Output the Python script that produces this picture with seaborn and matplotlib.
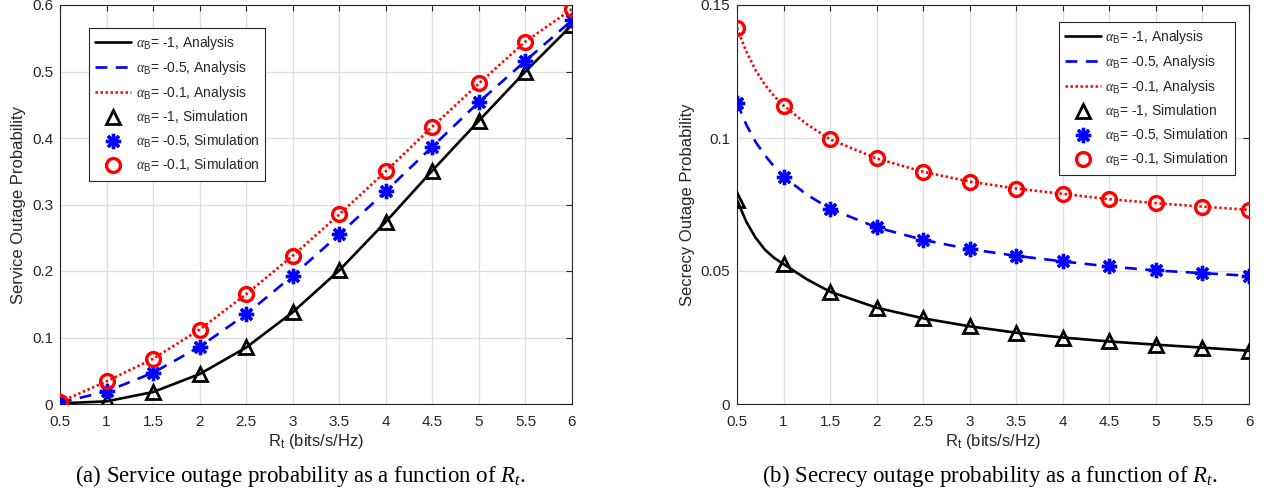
import matplotlib
matplotlib.use("Agg")
import matplotlib.pyplot as plt
import seaborn as sns
import numpy as np
import pandas as pd

# ---------------- data ----------------
rt = [0.5, 1, 1.5, 2, 2.5, 3, 3.5, 4, 4.5, 5, 5.5, 6]

# (a) service outage probability
sop_m1 = [0.001, 0.004, 0.018, 0.045, 0.085, 0.138, 0.201, 0.274, 0.351, 0.426, 0.500, 0.570]
sop_m05 = [0.002, 0.019, 0.047, 0.086, 0.135, 0.193, 0.255, 0.320, 0.387, 0.454, 0.516, 0.577]
sop_m01 = [0.003, 0.034, 0.068, 0.112, 0.165, 0.223, 0.285, 0.350, 0.417, 0.482, 0.545, 0.594]

# (b) secrecy outage probability (simulation points)
sec_m1 = [0.0767, 0.0526, 0.0422, 0.0362, 0.0322, 0.0292, 0.0268, 0.0250, 0.0235, 0.0223, 0.0212, 0.0200]
sec_m05 = [0.1133, 0.0855, 0.0734, 0.0664, 0.0617, 0.0582, 0.0557, 0.0536, 0.0517, 0.0502, 0.0492, 0.0482]
sec_m01 = [0.1414, 0.1122, 0.0995, 0.0923, 0.0873, 0.0836, 0.0810, 0.0790, 0.0770, 0.0755, 0.0742, 0.0730]

# (b) analysis curves, read at a few extra abscissae where the curves bend
rt_ana = [0.5, 0.6, 0.7, 0.8, 0.9, 1, 1.25, 1.5, 2, 2.5, 3, 3.5, 4, 4.5, 5, 5.5, 6]
ana_m1 = [0.0767, 0.0685, 0.0625, 0.0580, 0.0549, 0.0526, 0.0469, 0.0422, 0.0362, 0.0322, 0.0292,
          0.0268, 0.0250, 0.0235, 0.0223, 0.0212, 0.0200]
ana_m05 = [0.1133, 0.1050, 0.0985, 0.0935, 0.0892, 0.0855, 0.0787, 0.0734, 0.0664, 0.0617, 0.0582,
           0.0557, 0.0536, 0.0517, 0.0502, 0.0492, 0.0482]
ana_m01 = [0.1414, 0.1325, 0.1255, 0.1200, 0.1157, 0.1122, 0.1052, 0.0995, 0.0923, 0.0873, 0.0836,
           0.0810, 0.0790, 0.0770, 0.0755, 0.0742, 0.0730]

labels_ana = [r"$\alpha_{\mathrm{B}}$= -1, Analysis",
              r"$\alpha_{\mathrm{B}}$= -0.5, Analysis",
              r"$\alpha_{\mathrm{B}}$= -0.1, Analysis"]
labels_sim = [r"$\alpha_{\mathrm{B}}$= -1, Simulation",
              r"$\alpha_{\mathrm{B}}$= -0.5, Simulation",
              r"$\alpha_{\mathrm{B}}$= -0.1, Simulation"]

xticks = [0.5, 1, 1.5, 2, 2.5, 3, 3.5, 4, 4.5, 5, 5.5, 6]
xticklabels = ["0.5", "1", "1.5", "2", "2.5", "3", "3.5", "4", "4.5", "5", "5.5", "6"]
yticks_a = [0, 0.1, 0.2, 0.3, 0.4, 0.5, 0.6]
yticklabels_a = ["0", "0.1", "0.2", "0.3", "0.4", "0.5", "0.6"]
yticks_b = [0, 0.05, 0.1, 0.15]
yticklabels_b = ["0", "0.05", "0.1", "0.15"]

# ---------------- style ----------------
sns.set_theme(style="white")
plt.rcParams["font.family"] = ["Liberation Sans", "DejaVu Sans"]
plt.rcParams["mathtext.fontset"] = "custom"
plt.rcParams["mathtext.rm"] = "Liberation Sans"
plt.rcParams["mathtext.sf"] = "Liberation Sans"
plt.rcParams["mathtext.it"] = "Liberation Serif:italic"
plt.rcParams["mathtext.bf"] = "Liberation Sans:bold"
plt.rcParams["axes.edgecolor"] = "#262626"
plt.rcParams["xtick.color"] = "#262626"
plt.rcParams["ytick.color"] = "#262626"
plt.rcParams["text.color"] = "#262626"
plt.rcParams["axes.labelcolor"] = "#262626"

W, H = 1268, 503
fig = plt.figure(figsize=(W / 100, H / 100), dpi=100)
fig.patch.set_facecolor("white")


def px_axes(l, r, t, b):
    return fig.add_axes([l / W, 1 - b / H, (r - l) / W, (b - t) / H])


ax1 = px_axes(60, 572, 5, 404)
ax2 = px_axes(737, 1249, 5, 404)

colors = ["black", "blue", "red"]
styles = ["-", (0, (4.5, 3.2)), (0, (0.9, 1.0))]
lw = 1.9


def draw(ax, xa, ya_list, xs, ys_list):
    for y, c, ls, lab in zip(ya_list, colors, styles, labels_ana):
        df = pd.DataFrame({"x": xa, "y": y})
        sns.lineplot(data=df, x="x", y="y", ax=ax, color=c, linestyle=ls,
                     linewidth=lw, label=lab, sort=False, estimator=None, zorder=3)
    mk = [dict(marker="^", markersize=10.5, markeredgewidth=2.0, markerfacecolor="none",
               markeredgecolor="black"),
          dict(marker=(8, 2, 0), markersize=11, markeredgewidth=2.4, markerfacecolor="blue",
               markeredgecolor="blue"),
          dict(marker="o", markersize=10, markeredgewidth=2.4, markerfacecolor="none",
               markeredgecolor="red")]
    for y, c, m, lab in zip(ys_list, colors, mk, labels_sim):
        df = pd.DataFrame({"x": xs, "y": y})
        sns.lineplot(data=df, x="x", y="y", ax=ax, color=c, linestyle="",
                     label=lab, sort=False, estimator=None, zorder=4, **m)


draw(ax1, rt, [sop_m1, sop_m05, sop_m01], rt, [sop_m1, sop_m05, sop_m01])
draw(ax2, rt_ana, [ana_m1, ana_m05, ana_m01], rt, [sec_m1, sec_m05, sec_m01])

for ax, yt, ytl, ylab, lim in [(ax1, yticks_a, yticklabels_a, "Service Outage Probability", 0.6),
                               (ax2, yticks_b, yticklabels_b, "Secrecy Outage Probability", 0.15)]:
    ax.set_xlim(0.5, 6)
    ax.set_ylim(0, lim)
    ax.set_xticks(xticks)
    ax.set_xticklabels(xticklabels)
    ax.set_yticks(yt)
    ax.set_yticklabels(ytl)
    ax.grid(True, color="#dedede", linewidth=0.9)
    ax.set_axisbelow(True)
    ax.tick_params(direction="in", length=4, width=0.8, top=True, right=True,
                   labelsize=11)
    ax.tick_params(axis="x", pad=8)
    ax.tick_params(axis="y", pad=5)
    for s in ax.spines.values():
        s.set_linewidth(0.8)
        s.set_color("#262626")
    ax.set_xlabel(r"R$_{\mathrm{t}}$ (bits/s/Hz)", fontsize=12, labelpad=2)
    ax.set_ylabel(ylab, fontsize=12, labelpad=4)

leg_kw = dict(fontsize=10, frameon=True, fancybox=False, framealpha=1, edgecolor="#262626",
              handlelength=2.6, labelspacing=0.5, borderaxespad=0, handletextpad=0.3,
              borderpad=0.45)
l1 = ax1.legend(loc="upper left", bbox_to_anchor=((89 - 60) / 512, (404 - 28) / 399), **leg_kw)
l2 = ax2.legend(loc="upper right", bbox_to_anchor=((1235 - 737) / 512, (404 - 22) / 399), **leg_kw)
for l in (l1, l2):
    l.get_frame().set_linewidth(0.8)

fig.text(300 / W, 1 - 476 / H, r"(a) Service outage probability as a function of $R_t$.",
         family=["Liberation Serif"], fontsize=16.5, ha="center", va="center", color="black")
fig.text(990 / W, 1 - 476 / H, r"(b) Secrecy outage probability as a function of $R_t$.",
         family=["Liberation Serif"], fontsize=16.5, ha="center", va="center", color="black")

fig.savefig("out.png", dpi=100, facecolor="white")
